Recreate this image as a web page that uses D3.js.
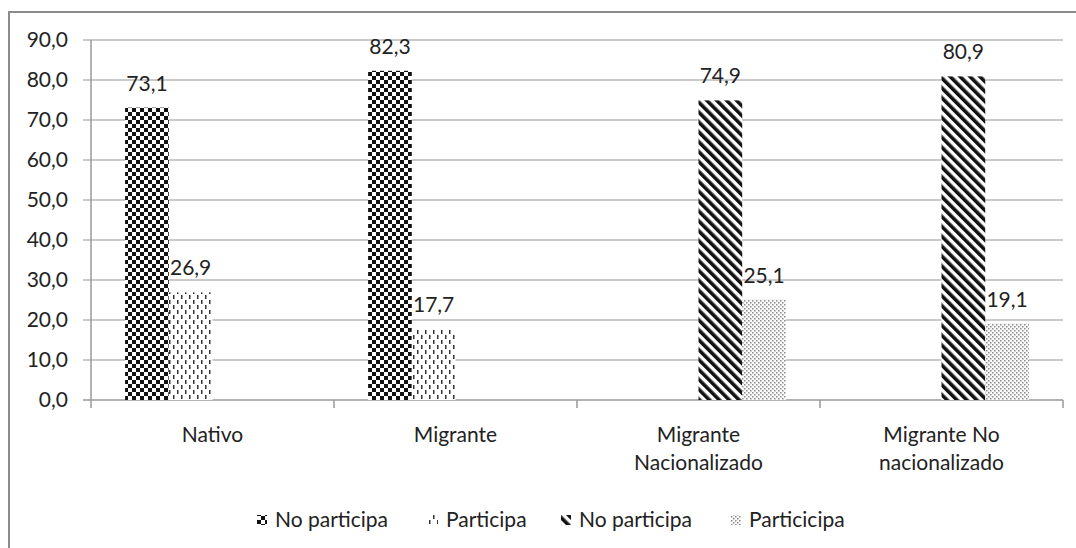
<!DOCTYPE html>
<html>
<head>
<meta charset="utf-8">
<script src="https://cdn.jsdelivr.net/npm/d3@7"></script>
<style>
  body { margin: 0; background: #fff; }
  text { font-family: Lato, 'Open Sans', sans-serif; fill: #222; }
</style>
</head>
<body>
<div id="chart"></div>
<script>
const categories = [['Nativo'], ['Migrante'], ['Migrante', 'Nacionalizado'], ['Migrante No', 'nacionalizado']]
const seriesNames = ['No participa', 'Participa', 'No participa', 'Particicipa']
const noParticipaA = [73.1, 82.3, null, null]
const participaA = [26.9, 17.7, null, null]
const noParticipaB = [null, null, 74.9, 80.9]
const participaB = [null, null, 25.1, 19.1]
const yTicks = [0, 10, 20, 30, 40, 50, 60, 70, 80, 90]

const series = [noParticipaA, participaA, noParticipaB, participaB]
const W = 1076, H = 548
const m = { left: 91, right: 13, top: 40, bottom: 148 }
const FS = '21px'

const svg = d3.select('#chart').append('svg')
  .attr('width', W).attr('height', H)

// patterns for the bar fills
const defs = svg.append('defs')
const checker = defs.append('pattern').attr('id', 'p0')
  .attr('patternUnits', 'userSpaceOnUse').attr('width', 8).attr('height', 8)
checker.append('rect').attr('width', 8).attr('height', 8).attr('fill', '#fff')
checker.append('rect').attr('width', 4).attr('height', 4).attr('fill', '#111')
checker.append('rect').attr('x', 4).attr('y', 4).attr('width', 4).attr('height', 4).attr('fill', '#111')

const dash = defs.append('pattern').attr('id', 'p1')
  .attr('patternUnits', 'userSpaceOnUse').attr('width', 8).attr('height', 10)
dash.append('rect').attr('width', 8).attr('height', 10).attr('fill', '#fff')
dash.append('rect').attr('x', 1).attr('y', 0).attr('width', 1.5).attr('height', 4).attr('fill', '#333')
dash.append('rect').attr('x', 5).attr('y', 5).attr('width', 1.5).attr('height', 4).attr('fill', '#333')

const stripe = defs.append('pattern').attr('id', 'p2')
  .attr('patternUnits', 'userSpaceOnUse').attr('width', 7).attr('height', 7)
  .attr('patternTransform', 'rotate(-45)')
stripe.append('rect').attr('width', 7).attr('height', 7).attr('fill', '#fff')
stripe.append('rect').attr('width', 3.6).attr('height', 7).attr('fill', '#111')

const dots = defs.append('pattern').attr('id', 'p3')
  .attr('patternUnits', 'userSpaceOnUse').attr('width', 4).attr('height', 4)
dots.append('rect').attr('width', 4).attr('height', 4).attr('fill', '#fafafa')
dots.append('rect').attr('x', 0).attr('y', 0).attr('width', 1.5).attr('height', 1.5).attr('fill', '#8a8a8a')
dots.append('rect').attr('x', 2).attr('y', 2).attr('width', 1.5).attr('height', 1.5).attr('fill', '#8a8a8a')

// outer frame
svg.append('rect').attr('x', 9).attr('y', 12).attr('width', W).attr('height', H)
  .attr('fill', 'none').attr('stroke', '#8c8c8c').attr('stroke-width', 2)

const x0 = d3.scaleBand().domain(d3.range(categories.length))
  .range([m.left, W - m.right]).paddingInner(0).paddingOuter(0)
const x1 = d3.scaleBand().domain(d3.range(series.length))
  .range([0, x0.bandwidth()]).paddingOuter(0.78)
const y = d3.scaleLinear().domain([0, 90]).range([H - m.bottom, m.top])

// gridlines
svg.append('g').selectAll('line').data(yTicks).join('line')
  .attr('x1', m.left - 8).attr('x2', W - m.right)
  .attr('y1', d => y(d)).attr('y2', d => y(d))
  .attr('stroke', d => d === 0 ? '#999' : '#b8b8b8').attr('stroke-width', 1.5)

svg.append('g').selectAll('text').data(yTicks).join('text')
  .attr('x', m.left - 23).attr('y', d => y(d)).attr('dy', '0.35em')
  .attr('text-anchor', 'end').style('font-size', FS)
  .text(d => d3.format('.1f')(d).replace('.', ','))

svg.append('line').attr('x1', m.left).attr('x2', m.left)
  .attr('y1', y(90)).attr('y2', y(0) + 8).attr('stroke', '#999').attr('stroke-width', 1.5)

// category ticks
svg.append('g').selectAll('line').data(d3.range(1, categories.length + 1)).join('line')
  .attr('x1', d => m.left + d * x0.bandwidth()).attr('x2', d => m.left + d * x0.bandwidth())
  .attr('y1', y(0)).attr('y2', y(0) + 8).attr('stroke', '#999').attr('stroke-width', 1.5)

// bars
series.forEach((vals, s) => {
  const g = svg.append('g')
  const pts = vals.map((v, i) => ({ v, i })).filter(d => d.v != null)
  g.selectAll('rect').data(pts).join('rect')
    .attr('x', d => x0(d.i) + x1(s)).attr('width', x1.bandwidth())
    .attr('y', d => y(d.v)).attr('height', d => y(0) - y(d.v))
    .attr('fill', `url(#p${s})`)
  g.selectAll('text').data(pts).join('text')
    .attr('x', d => x0(d.i) + x1(s) + x1.bandwidth() / 2)
    .attr('y', d => y(d.v) - 17)
    .attr('text-anchor', 'middle').style('font-size', FS)
    .text(d => d3.format('.1f')(d.v).replace('.', ','))
})

// category labels
categories.forEach((lines, i) => {
  const t = svg.append('text').attr('text-anchor', 'middle').style('font-size', FS)
  lines.forEach((l, k) => {
    t.append('tspan').attr('x', x0(i) + x0.bandwidth() / 2)
      .attr('y', 442 + k * 28).text(l)
  })
})

// legend
const legendX = [257, 428, 561, 731]
const lg = svg.append('g').selectAll('g').data(seriesNames).join('g')
  .attr('transform', (d, i) => `translate(${legendX[i]},520)`)
lg.append('rect').attr('x', 0).attr('y', -5).attr('width', 10).attr('height', 10)
  .attr('fill', (d, i) => `url(#p${i})`)
lg.append('text').attr('x', 18).attr('y', 0).attr('dy', '0.35em')
  .style('font-size', FS).text(d => d)
</script>
</body>
</html>
